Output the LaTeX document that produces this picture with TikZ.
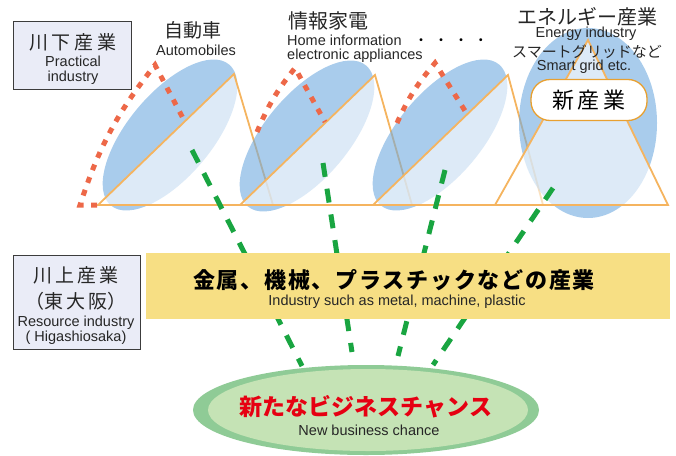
\documentclass[tikz,border=0pt]{standalone}
\usepackage{fontspec}
\setmainfont{Liberation Sans}
\newfontfamily\jp{Noto Sans CJK JP}
\definecolor{ellblue}{RGB}{112,170,223}
\definecolor{triorange}{RGB}{245,180,95}
\definecolor{reddot}{RGB}{237,104,72}
\definecolor{greendash}{RGB}{25,165,65}
\definecolor{baryellow}{RGB}{247,223,132}
\definecolor{boxfill}{RGB}{234,236,247}
\definecolor{ringgreen}{RGB}{143,203,150}
\definecolor{innergreen}{RGB}{197,227,181}
\definecolor{chancered}{RGB}{230,0,18}
\definecolor{newboxline}{RGB}{232,160,48}
\definecolor{boxline}{RGB}{60,60,60}
\tikzset{
  blueell/.style={fill=ellblue, opacity=0.6},
  tri/.style={fill=white, fill opacity=0.6, draw=triorange, draw opacity=1, line width=1.8pt, line join=miter},
  reddotted/.style={draw=reddot, line width=5pt, dash pattern=on 6pt off 7.5pt},
  greendashed/.style={draw=greendash, line width=5pt, dash pattern=on 14pt off 12pt},
  labelbox/.style={draw=boxline, fill=boxfill, line width=1.2pt},
  lat/.style={font=\fontsize{14.5}{16}\selectfont, inner sep=0pt, text=black!85},
  jpl/.style={font=\jp\fontsize{19}{22}\selectfont, inner sep=0pt, text=black!85},
}
\begin{document}
\begin{tikzpicture}[x=1pt,y=-1pt]
\useasboundingbox (0,0) rectangle (676,455);

% cones of the downstream industries
\fill[blueell, rotate around={50:(170,135)}] (170,135) ellipse [x radius=92pt, y radius=42pt];
\path[tri] (98,205) -- (234,74) -- (273,205) -- cycle;
\fill[blueell, rotate around={50:(307,136)}] (307,136) ellipse [x radius=92pt, y radius=42pt];
\path[tri] (240,205) -- (375,75) -- (412,205) -- cycle;
\fill[blueell, rotate around={50:(440,135)}] (440,135) ellipse [x radius=92pt, y radius=42pt];
\path[tri] (373,205) -- (508,75) -- (543,205) -- cycle;
\fill[blueell] (588,123) ellipse [x radius=69pt, y radius=95pt];
\path[tri] (495,205) -- (588,40) -- (668,205) -- cycle;

% red dotted contours
\draw[reddotted] (97,205) -- (80,205) to[bend left=10] (155,65) -- (185,122);
\draw[reddotted] (257,132) to[bend left=8] (295,68) -- (325,122);
\draw[reddotted] (397,123) to[bend left=8] (435,63) -- (467,114);

% green connector coordinates
\coordinate (g1s) at (192,150);
\coordinate (g2s) at (323,163);
\coordinate (g3s) at (445,170);
\coordinate (g4s) at (553,188);
\coordinate (g1e) at (302,366);
\coordinate (g2e) at (352,352);
\coordinate (g3e) at (398,356);
\coordinate (g4e) at (433,365);
\draw[greendashed] (g1s) -- (g1e);
\draw[greendashed] (g2s) -- (g2e);
\draw[greendashed] (g3s) -- (g3e);
\draw[greendashed] (g4s) -- (g4e);

% yellow bar
\node[fill=baryellow, minimum width=524pt, minimum height=66pt, inner sep=0pt, anchor=north west] (bar) at (146,253) {};
\node[font=\jp\bfseries\fontsize{22}{24}\selectfont\addfontfeature{LetterSpace=8}, inner sep=0pt] (barjp) at (394,280) {金属、機械、プラスチックなどの産業};
\node[lat] (baren) at (397,302) {Industry such as metal, machine, plastic};

% label boxes
\node[labelbox, minimum width=118pt, minimum height=68pt, anchor=north west, inner sep=0pt] (down) at (13,21) {};
\node[jpl] (downjp) at (73,42) {川\hspace{4pt}下\hspace{4pt}産\hspace{4pt}業};
\node[lat, align=center, font=\fontsize{14.5}{15}\selectfont] (downen) at (73,70.5) {Practical\\industry};

\node[labelbox, minimum width=127pt, minimum height=94pt, anchor=north west, inner sep=0pt] (up) at (13,255) {};
\node[jpl] (upjp1) at (76,275) {川\hspace{3pt}上\hspace{3pt}産\hspace{3pt}業};
\node[jpl] (upjp2) at (76,301) {（東\hspace{3pt}大\hspace{3pt}阪）};
\node[lat, align=center, font=\fontsize{14.5}{15}\selectfont] (upen) at (76,330) {Resource industry\\( Higashiosaka)};

% top labels
\node[jpl] (car) at (193,30) {自動車};
\node[lat] (caren) at (196,50) {Automobiles};
\node[jpl, font=\jp\fontsize{20}{22}\selectfont] (home) at (328,21) {情報家電};
\node[lat, anchor=west, align=left, font=\fontsize{14.5}{14}\selectfont] (homeen) at (287,48.5) {Home information\\electronic appliances};
\node[font=\jp\fontsize{14}{16}\selectfont, inner sep=0pt] (dots) at (451,42) {・\hspace{6pt}・\hspace{6pt}・\hspace{6pt}・};
\node[jpl, font=\jp\fontsize{20}{22}\selectfont] (energy) at (587,17) {エネルギー産業};
\node[lat] (energyen) at (586,34) {Energy industry};
\node[jpl, font=\jp\fontsize{15}{17}\selectfont] (smart) at (587,52) {スマートグリッドなど};
\node[lat] (smarten) at (584,67) {Smart grid etc.};
\node[draw=newboxline, fill=white, line width=1.3pt, rounded corners=19pt, minimum width=116pt, minimum height=41pt, inner sep=0pt, font=\jp\fontsize{22}{24}\selectfont] (newind) at (589,100) {新\hspace{4pt}産\hspace{4pt}業};

% new business chance
\fill[ringgreen] (366,410) ellipse [x radius=173pt, y radius=45pt];
\fill[innergreen] (368,410) ellipse [x radius=160pt, y radius=41pt];
\node[font=\jp\bfseries\fontsize{23}{26}\selectfont, text=chancered, inner sep=0pt] (chance) at (366,407) {新たなビジネスチャンス};
\node[lat] (chanceen) at (369,430) {New business chance};
\end{tikzpicture}
\end{document}
